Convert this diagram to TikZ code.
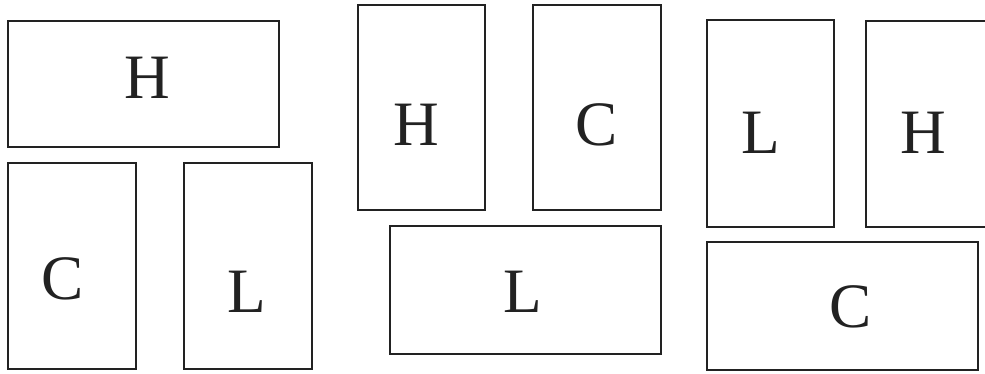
\documentclass[tikz,border=0pt]{standalone}
\usepackage{fontspec}
\setmainfont{Liberation Serif}
\usepackage{tikz}
\usepackage{xcolor}
\definecolor{frameink}{RGB}{34,34,34}
\tikzset{letter/.style={font=\fontsize{36}{40}\selectfont,text=frameink,inner sep=0pt}}

\begin{document}
\begin{tikzpicture}[x=0.02cm,y=-0.02cm,line join=miter]
  % three layouts of the cells H, C and L, measured in pixels from the top left
  \useasboundingbox (0,0) rectangle (985,373);
  \foreach \a/\b in {{(8,21)}/{(279,147)},{(8,163)}/{(136,369)},{(184,163)}/{(312,369)},
                     {(358,5)}/{(485,210)},{(533,5)}/{(661,210)},{(390,226)}/{(661,354)},
                     {(707,20)}/{(834,227)},{(707,242)}/{(978,370)}}{\draw[frameink,line width=1.1pt] \a rectangle \b;}
  \draw[frameink,line width=1.1pt] (985,21) -- (866,21) -- (866,227) -- (985,227);
  \node[letter] (h1) at (147,78) {H};
  \node[letter] (c1) at (63,279) {C};
  \node[letter] (l1) at (247,292) {L};
  \node[letter] (h2) at (416,125) {H};
  \node[letter] (c2) at (597,125) {C};
  \node[letter] (l2) at (523,292) {L};
  \node[letter] (l3) at (761,133) {L};
  \node[letter] (h3) at (923,133) {H};
  \node[letter] (c3) at (851,307) {C};
\end{tikzpicture}
\end{document}
